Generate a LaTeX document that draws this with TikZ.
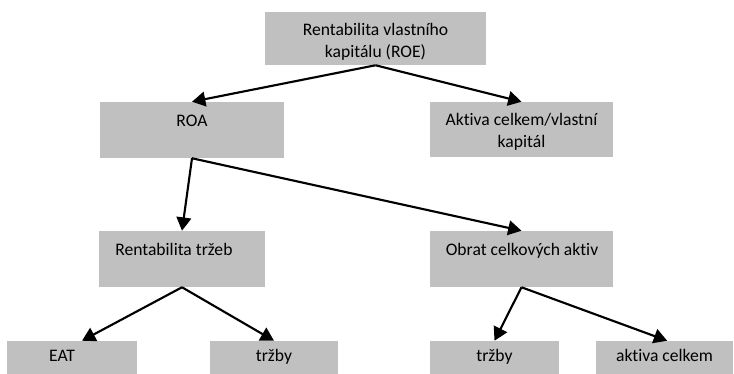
\documentclass[tikz,border=0pt]{standalone}
\usepackage{fontspec}
\setmainfont{Carlito}[Ligatures=NoCommon]
\usetikzlibrary{arrows.meta}

\begin{document}
\begin{tikzpicture}[x=0.75pt,y=-0.75pt,
    box/.style={fill=boxgray,inner sep=0pt},
    lbl/.style={anchor=base,inner sep=0pt,align=center,
      font=\fontsize{13.2}{16.5}\selectfont},
    arr/.style={line width=1.6pt,-{Triangle[length=10pt,width=11pt]}}]
  \definecolor{boxgray}{RGB}{192,192,192}
  \useasboundingbox (0,0) rectangle (734,374);
  \clip (0,0) rectangle (734,374);

  \node[box,minimum width=165.75pt,minimum height=39.75pt] (roe) at (375.5,38.5) {};
  \node[box,minimum width=138pt,minimum height=42pt] (roa) at (192,130) {};
  \node[box,minimum width=137.25pt,minimum height=41.25pt] (akt) at (521.5,129.5) {};
  \node[box,minimum width=124.5pt,minimum height=42pt] (rtr) at (182,259) {};
  \node[box,minimum width=137.25pt,minimum height=42pt] (obr) at (521.5,259) {};
  \node[box,minimum width=97.5pt,minimum height=42pt] (eat) at (72,369) {};
  \node[box,minimum width=96pt,minimum height=42pt] (trz1) at (274,369) {};
  \node[box,minimum width=96.75pt,minimum height=42pt] (trz2) at (494.5,369) {};
  \node[box,minimum width=102.75pt,minimum height=42pt] (akc) at (664.5,369) {};

  \node[lbl] (roe-t) at (375.5,58) {Rentabilita vlastního\\kapitálu (ROE)};
  \node[lbl] (roa-t) at (192,127) {ROA};
  \node[lbl] (akt-t) at (521.5,147) {Aktiva celkem/vlastní\\kapitál};
  \node[lbl,anchor=base west] (rtr-t) at (115,255) {Rentabilita tržeb};
  \node[lbl] (obr-t) at (522,255) {Obrat celkových aktiv};
  \node[lbl] (eat-t) at (62,361) {EAT};
  \node[lbl] (trz1-t) at (274,361) {tržby};
  \node[lbl] (trz2-t) at (494.5,361) {tržby};
  \node[lbl] (akc-t) at (664.5,361) {aktiva celkem};

  \draw[arr] (roe.south) -- (roa.north);
  \draw[arr] (roe.south) -- (akt.north);
  \draw[arr] (roa.south) -- (rtr.north);
  \draw[arr] (roa.south) -- (obr.north);
  \draw[arr] (rtr.south) -- ([xshift=7.5pt]eat.north);
  \draw[arr] (rtr.south) -- (trz1.north);
  \draw[arr] (obr.south) -- (trz2.north);
  \draw[arr] (obr.south) -- ([xshift=2pt]akc.north);
\end{tikzpicture}
\end{document}
